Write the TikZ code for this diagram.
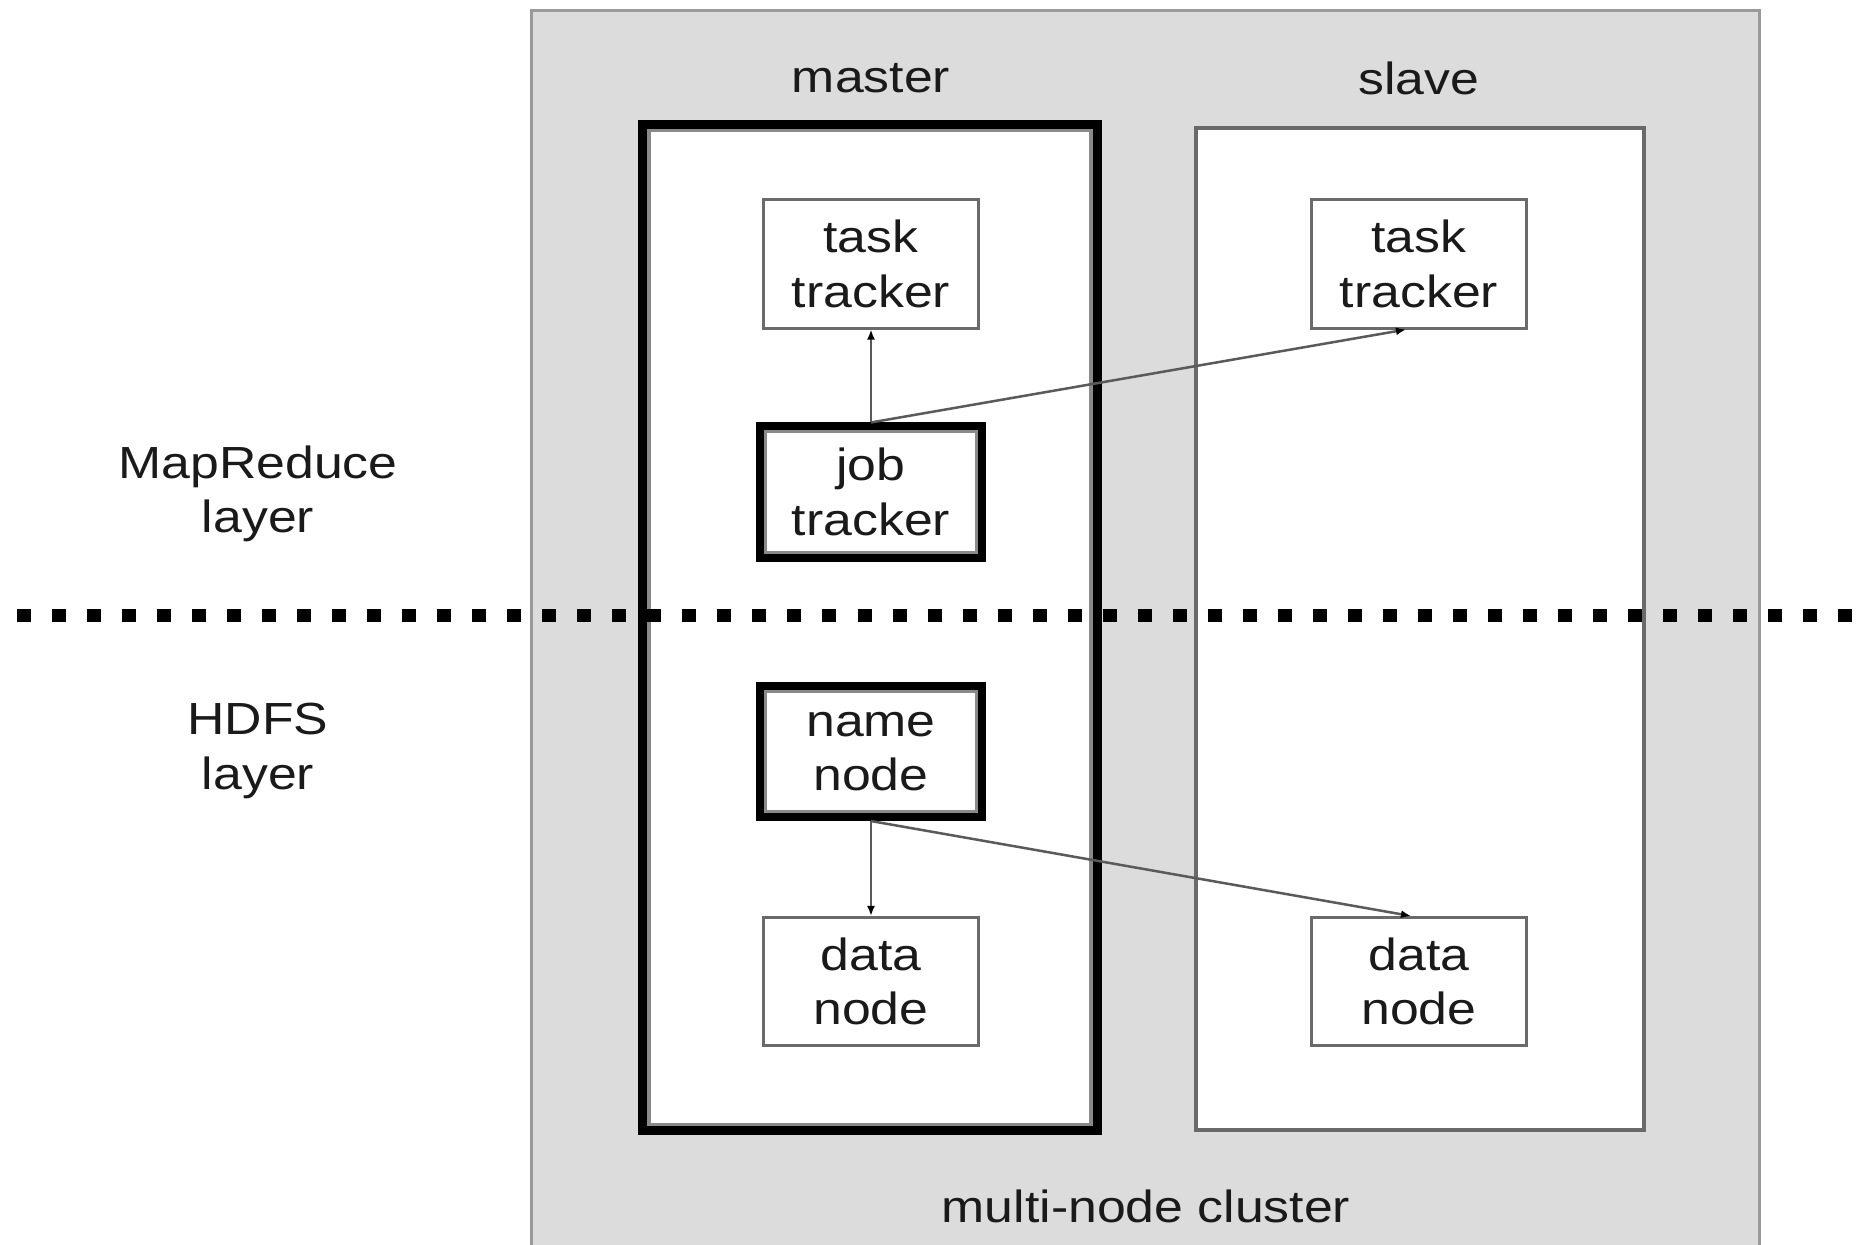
\documentclass[tikz,border=0pt]{standalone}
\usepackage{fontspec}
\setmainfont{Liberation Sans}[FakeStretch=1.15]
\usetikzlibrary{arrows.meta}
\definecolor{clusterfill}{HTML}{DCDCDC}
\definecolor{clusteredge}{HTML}{9A9A9A}
\definecolor{boxedge}{HTML}{6A6A6A}
\definecolor{inneredge}{HTML}{8A8A8A}
\definecolor{conncol}{HTML}{5A5A5A}
\definecolor{txt}{HTML}{1A1A1A}
\begin{document}
\begin{tikzpicture}[x=0.01cm,y=-0.01cm,
  txtfont/.style={font=\fontsize{12.8}{15.5}\selectfont, text=txt},
  lbl/.style={txtfont, align=center, inner sep=0pt},
  smallbox/.style={txtfont, draw=boxedge, line width=0.03cm, fill=white,
    minimum width=2.15cm, minimum height=1.28cm, align=center, inner sep=0pt},
  boldbox/.style={txtfont, draw=black, line width=0.08cm, fill=white,
    minimum width=2.21cm, minimum height=1.31cm, align=center, inner sep=0pt},
  conn/.style={draw=conncol, line width=0.025cm,
    -{Latex[length=0.1cm,width=0.08cm,black]}},
  dotline/.style={draw=black, line width=0.13cm, dash pattern=on 0.14cm off 0.21cm}
]
\useasboundingbox (0,0) rectangle (1859,1245);
\clip (0,0) rectangle (1859,1245);

% cluster
\draw[fill=clusterfill, draw=clusteredge, line width=0.03cm] (531.5,10.5) rectangle (1759.5,1300);

% master and slave
\node[draw=black, line width=0.09cm, fill=white, minimum width=4.54cm, minimum height=10.05cm, inner sep=0pt] (master) at (870,627.5) {};
\draw[draw=inneredge, line width=0.035cm] ([shift={(10.5,10.5)}]master.north west) rectangle ([shift={(-10.5,-10.5)}]master.south east);
\node[draw=boxedge, line width=0.04cm, fill=white, minimum width=4.48cm, minimum height=10.02cm, inner sep=0pt] (slave) at (1420,629) {};

\node[lbl] (masterlbl) at (871,78) {master};
\node[lbl] (slavelbl) at (1419,78) {slave};
\node[lbl] (clusterlbl) at (1146,1206) {multi-node cluster};
\node[lbl] (mrlbl) at (258,494) {MapReduce\\layer};
\node[lbl] (hdfslbl) at (258,751) {HDFS\\layer};

% boxes
\node[smallbox] (tt1) at (871,264) {task\\tracker};
\node[smallbox] (tt2) at (1419,264) {task\\tracker};
\node[boldbox] (jt) at (871,492) {job\\tracker};
\draw[draw=inneredge, line width=0.03cm] ([shift={(9.5,9.5)}]jt.north west) rectangle ([shift={(-9.5,-9.5)}]jt.south east);
\node[boldbox] (nn) at (871,751.5) {name\\node};
\draw[draw=inneredge, line width=0.03cm] ([shift={(9.5,9.5)}]nn.north west) rectangle ([shift={(-9.5,-9.5)}]nn.south east);
\node[smallbox] (dn1) at (871,981.5) {data\\node};
\node[smallbox] (dn2) at (1419,981.5) {data\\node};

% connectors
\draw[conn] (jt.north) -- (tt1.south);
\draw[conn] (jt.north) -- ([xshift=-0.13cm]tt2.south);
\draw[conn] (nn.south) -- (dn1.north);
\draw[conn] (nn.south) -- ([xshift=-0.08cm]dn2.north);

% layer separator
\coordinate (sepl) at (17,615);
\coordinate (sepr) at (1870,615);
\draw[dotline] (sepl) -- (sepr);
\end{tikzpicture}
\end{document}
